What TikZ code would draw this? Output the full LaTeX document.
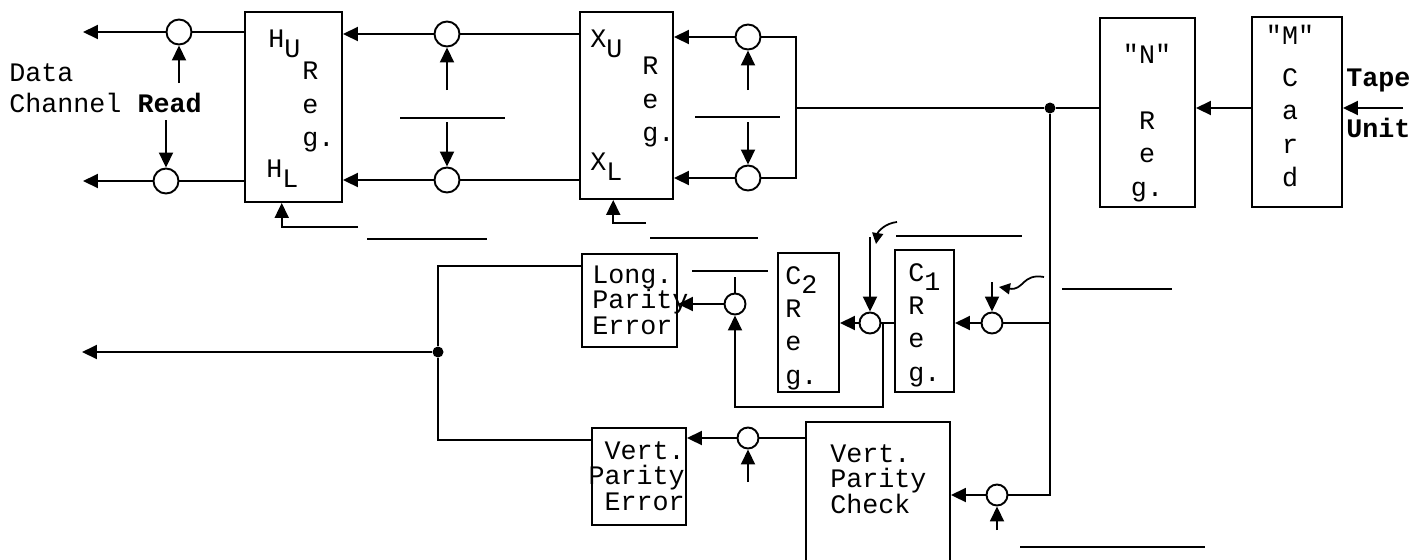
\documentclass[tikz,border=0pt]{standalone}
\usepackage{fontspec}
\setmainfont{Liberation Mono}[Ligatures=TeXOff]
\usetikzlibrary{arrows.meta}

\begin{document}
\begin{tikzpicture}[
  x=0.02cm, y=-0.02cm,
  font=\fontsize{15.2}{18.5}\selectfont,
  register/.style={draw=black, line width=1.1pt, inner sep=0pt},
  gate/.style={circle, draw=black, line width=1.1pt, fill=white, inner sep=0pt, minimum size=0.5cm},
  smallgate/.style={gate, minimum size=0.42cm},
  junction/.style={circle, fill=black, inner sep=0pt, minimum size=0.22cm},
  regtext/.style={inner sep=0pt, align=left, font=\fontsize{15.2}{19}\selectfont},
  errtext/.style={inner sep=0pt, font=\fontsize{15.2}{14.5}\selectfont},
  flow/.style={-{Triangle[length=0.3cm, width=0.28cm]}, line width=1.1pt},
  squiggle/.style={-{Triangle[length=0.22cm, width=0.22cm]}, line width=1pt},
  wire/.style={-, line width=1.1pt},
  blankline/.style={-, line width=1pt}
]
\useasboundingbox (0,0) rectangle (1426,559);
\clip (0,0) rectangle (1426,559);

% ----------------- REGISTERS -----------------
\node[register, minimum width=1.94cm, minimum height=3.8cm] (h_reg) at (293.5,107) {};
\node[register, minimum width=1.86cm, minimum height=3.74cm] (x_reg) at (626.5,105.5) {};
\node[register, minimum width=1.9cm, minimum height=3.78cm] (n_reg) at (1147.5,112.5) {};
\node[register, minimum width=1.8cm, minimum height=3.8cm] (m_reg) at (1297,112) {};
\node[register, minimum width=1.18cm, minimum height=2.84cm] (c1_reg) at (924.5,321) {};
\node[register, minimum width=1.22cm, minimum height=2.78cm] (c2_reg) at (808.5,322.5) {};
\node[register, minimum width=1.9cm, minimum height=1.86cm] (lp_err) at (629.5,300.5) {};
\node[register, minimum width=1.88cm, minimum height=1.94cm] (vp_err) at (639,476.5) {};
\node[register, minimum width=2.88cm, minimum height=3.4cm] (vp_chk) at (878,507) {};

% ----------------- REGISTER TEXTS -----------------
\node[regtext, anchor=west] (hu_txt) at (268,44) {H\raisebox{-.7ex}{U}};
\node[regtext, anchor=west] (hl_txt) at (266,174) {H\raisebox{-.7ex}{L}};
\node[regtext, anchor=west] (h_txt) at (302,107) {R\\e\\g.};
\node[regtext, anchor=west] (xu_txt) at (590,44) {X\raisebox{-.7ex}{U}};
\node[regtext, anchor=west] (xl_txt) at (590,167) {X\raisebox{-.7ex}{L}};
\node[regtext, anchor=west] (x_txt) at (642,102) {R\\e\\g.};
\node[regtext, align=center] (n_txt) at (1147,123) {"N"\\[18.5pt]R\\e\\g.};
\node[regtext, align=center] (m_txt) at (1290,106) {"M"\\[5pt]C\\a\\r\\d};
\node[regtext, anchor=west] (c1_txt) at (908,325) {C\raisebox{-.7ex}{1}\\R\\e\\g.};
\node[regtext, anchor=west] (c2_txt) at (785,328) {C\raisebox{-.7ex}{2}\\R\\e\\g.};
\node[errtext, anchor=west, align=left] (lp_txt) at (592,300) {Long.\\Parity\\Error};
\node[errtext, anchor=east, align=right] (vpe_txt) at (685,476) {Vert.\\Parity\\Error};
\node[errtext, anchor=west, align=left] (vpc_txt) at (830,479) {Vert.\\Parity\\Check};

% ----------------- OUTSIDE LABELS -----------------
\node[inner sep=0pt, anchor=west] (data_txt) at (9,73) {Data};
\node[inner sep=0pt, anchor=west] (chan_txt) at (9,103) {Channel \textbf{Read}};
\node[inner sep=0pt, anchor=west] (tape_txt) at (1346,80) {\textbf{Tape}};
\node[inner sep=0pt, anchor=west] (unit_txt) at (1346,128) {\textbf{Unit}};

% ----------------- GATES AND JUNCTIONS -----------------
\node[gate] (c_hu) at (179,32) {};
\node[gate] (c_hl) at (166,181) {};
\node[gate] (c_xu) at (447,34) {};
\node[gate] (c_xl) at (447,180) {};
\node[gate] (c_ru) at (748,37) {};
\node[gate] (c_rl) at (748,178) {};
\node[smallgate] (c_c1in) at (992,323) {};
\node[smallgate] (c_c2in) at (870,323) {};
\node[smallgate] (c_lp) at (735,304) {};
\node[smallgate] (c_vp) at (748,438) {};
\node[smallgate] (c_vc) at (997,495) {};
\node[junction] (jn) at (1050,108) {};
\node[junction] (dot_err) at (438,352) {};

% ----------------- FREE ENDS -----------------
\coordinate (out_hu) at (83,32);
\coordinate (out_hl) at (83,181);
\coordinate (out_err) at (82,352);
\coordinate (rd_hu) at (179,83);
\coordinate (rd_hl) at (166,120);
\coordinate (ct_xu) at (447,90);
\coordinate (ct_xl) at (447,122);
\coordinate (ct_ru) at (748,90);
\coordinate (ct_rl) at (748,122);
\coordinate (ct_c1) at (992,282);
\coordinate (ct_c2) at (870,237);
\coordinate (ct_vp) at (748,482);
\coordinate (ct_vc) at (997,530);
\coordinate (h_ctl) at (358,227);
\coordinate (x_ctl) at (646,223);
\coordinate (xin) at (796,108);
\coordinate (tape) at (1403,108);
\coordinate (c2tap) at (883,323);
\coordinate (lploop) at (883,407);
\coordinate (lp_stub) at (735,277);
\coordinate (err_top) at (438,266);
\coordinate (err_bot) at (438,440);
\coordinate (sq_a) at (1044,277);
\coordinate (sq_b) at (999,287);
\coordinate (sq_c) at (897,222);
\coordinate (sq_d) at (876,244);

% ----------------- H REGISTER -----------------
\draw[wire] (h_reg.west |- c_hu) -- (c_hu);
\draw[flow] (c_hu) -- (out_hu);
\draw[wire] (h_reg.west |- c_hl) -- (c_hl);
\draw[flow] (c_hl) -- (out_hl);
\draw[flow] (rd_hu) -- (c_hu);
\draw[flow] (rd_hl) -- (c_hl);
\draw[flow] (h_ctl) -| (h_reg.-97);

% ----------------- X REGISTER -----------------
\draw[wire] (x_reg.west |- c_xu) -- (c_xu);
\draw[flow] (c_xu) -- (h_reg.east |- c_xu);
\draw[wire] (x_reg.west |- c_xl) -- (c_xl);
\draw[flow] (c_xl) -- (h_reg.east |- c_xl);
\draw[flow] (ct_xu) -- (c_xu);
\draw[flow] (ct_xl) -- (c_xl);
\draw[flow] (x_ctl) -| (x_reg.-98);

\draw[flow] (c_ru) -- (x_reg.east |- c_ru);
\draw[flow] (c_rl) -- (x_reg.east |- c_rl);
\draw[flow] (ct_ru) -- (c_ru);
\draw[flow] (ct_rl) -- (c_rl);
\draw[wire] (c_ru) -| (xin) |- (c_rl);

% ----------------- N REGISTER AND CARD -----------------
\draw[wire] (xin) -- (jn);
\draw[wire] (jn) -- (n_reg.west |- jn);
\draw[flow] (m_reg.west |- jn) -- (n_reg.east |- jn);
\draw[flow] (tape) -- (m_reg.east |- tape);

% ----------------- C REGISTERS -----------------
\draw[wire] (c_c1in) -- (jn |- c_c1in);
\draw[flow] (c_c1in) -- (c1_reg.east |- c_c1in);
\draw[flow] (ct_c1) -- (c_c1in);
\draw[squiggle] (sq_a) .. controls (1022,273) and (1024,291) .. (sq_b);
\draw[wire] (c_c2in) -- (c1_reg.west |- c_c2in);
\draw[flow] (c_c2in) -- (c2_reg.east |- c_c2in);
\draw[flow] (ct_c2) -- (c_c2in);
\draw[squiggle] (sq_c) .. controls (886,223) and (878,231) .. (sq_d);
\draw[flow] (c2tap) -- (lploop) -| (c_lp);
\draw[wire] (c_lp) -- (lp_stub);
\draw[flow] (c_lp) -- (lp_err.east |- c_lp);

% ----------------- ERROR OUTPUT -----------------
\draw[wire] (lp_err.west |- err_top) -- (err_top) -- (dot_err);
\draw[wire] (dot_err) -- (err_bot) -- (vp_err.west |- err_bot);
\draw[flow] (dot_err) -- (out_err);

% ----------------- VERTICAL PARITY -----------------
\draw[wire] (vp_chk.west |- c_vp) -- (c_vp);
\draw[flow] (c_vp) -- (vp_err.east |- c_vp);
\draw[flow] (ct_vp) -- (c_vp);
\draw[wire] (jn) |- (c_vc);
\draw[flow] (c_vc) -- (vp_chk.east |- c_vc);
\draw[flow] (ct_vc) -- (c_vc);

% ----------------- BLANK FIELDS -----------------
\draw[blankline] (400,118) -- (505,118);
\draw[blankline] (695,117) -- (780,117);
\draw[blankline] (367,239) -- (487,239);
\draw[blankline] (650,238) -- (758,238);
\draw[blankline] (692,271) -- (768,271);
\draw[blankline] (896,236) -- (1022,236);
\draw[blankline] (1062,289) -- (1172,289);
\draw[blankline] (1020,547) -- (1205,547);

\end{tikzpicture}
\end{document}
